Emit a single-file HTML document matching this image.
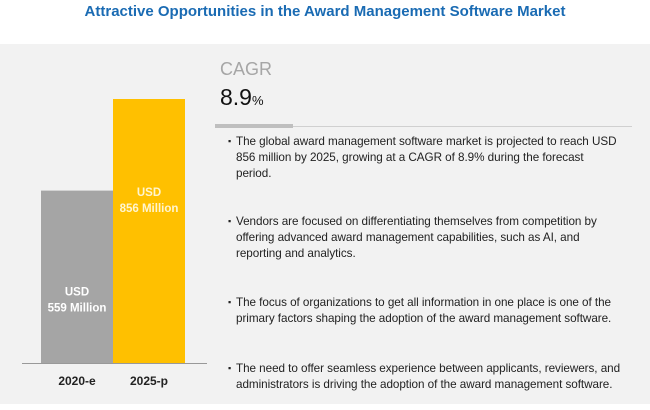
<!DOCTYPE html>
<html><head><meta charset="utf-8"><style>
body{margin:0;width:650px;height:410px;background:#fff;font-family:"Liberation Sans",sans-serif;position:relative;overflow:hidden}
.t{position:absolute}
#title{left:0;width:650px;top:3px;text-align:center;color:#1a6bb3;font-weight:bold;font-size:15px}
#panel{left:0;top:44px;width:650px;height:360px;background:#f2f2f2}
.b{left:236px;font-size:11.7px;line-height:16px;color:#222;white-space:nowrap;letter-spacing:-0.05px}
.b span{position:absolute;left:-8px;top:-1px;font-size:9px}
</style></head><body>
<div class="t" id="title">Attractive Opportunities in the Award Management Software Market</div>
<div class="t" id="panel"></div>
<svg class="t" style="left:0;top:0" width="650" height="410" id="chart"></svg>
<div class="t" style="left:220px;top:59px;font-size:18px;color:#a6a6a6">CAGR</div>
<div class="t" style="left:220px;top:84px;font-size:23px;color:#111">8.9<span style="font-size:13px">%</span></div>
<div class="t" style="left:215px;top:126px;width:417px;height:1px;background:#d0d0d0"></div>
<div class="t" style="left:215px;top:124px;width:78px;height:4px;background:#bfbfbf"></div>
<div class="t b" style="top:134px"><span>▪</span>The global award management software market is projected to reach USD<br>856 million by 2025, growing at a CAGR of 8.9% during the forecast<br>period.</div>
<div class="t b" style="top:214px"><span>▪</span>Vendors are focused on differentiating themselves from competition by<br>offering advanced award management capabilities, such as AI, and<br>reporting and analytics.</div>
<div class="t b" style="top:295px"><span>▪</span>The focus of organizations to get all information in one place is one of the<br>primary factors shaping the adoption of the award management software.</div>
<div class="t b" style="top:361px"><span>▪</span>The need to offer seamless experience between applicants, reviewers, and<br>administrators is driving the adoption of the award management software.</div>
<script>
const categories=["2020-e","2025-p"];
const values=[559,856];
const valueLabels=["559 Million","856 Million"];
const colors=["#a5a5a5","#ffc000"];
const svg=document.getElementById('chart');
const NS="http://www.w3.org/2000/svg";
const base=363, scale=264/856, x0=41, bw=72;
const y=v=>base-v*scale;
function mk(tag,attrs,text){const e=document.createElementNS(NS,tag);for(const k in attrs)e.setAttribute(k,attrs[k]);if(text)e.textContent=text;svg.appendChild(e);return e;}
categories.forEach((c,i)=>{
 const x=x0+i*bw;
 const r=mk('rect',{x:x,y:y(values[i]),width:bw,height:base-y(values[i]),fill:colors[i]});
 
 
 const ly=i==0?y(values[i])+105:y(values[i])+97;
 const t1=mk('text',{x:x+bw/2,y:ly,'text-anchor':'middle','font-size':11.5,'font-weight':'bold',fill:i==0?'#fff':'#fff5d0','font-family':'Liberation Sans'},'USD');
 
 
 const t2=mk('text',{x:x+bw/2,y:ly+16,'text-anchor':'middle','font-size':11.5,'font-weight':'bold',fill:i==0?'#fff':'#fff5d0','font-family':'Liberation Sans'},valueLabels[i]);
 
 
 const t3=mk('text',{x:x+bw/2,y:385,'text-anchor':'middle','font-size':12,'font-weight':'bold',fill:'#222','font-family':'Liberation Sans'},c);
 
 
});
const ax=mk('line',{x1:22,x2:207,y1:base+.5,y2:base+.5,stroke:'#999','stroke-width':1});


</script>
</body></html>
